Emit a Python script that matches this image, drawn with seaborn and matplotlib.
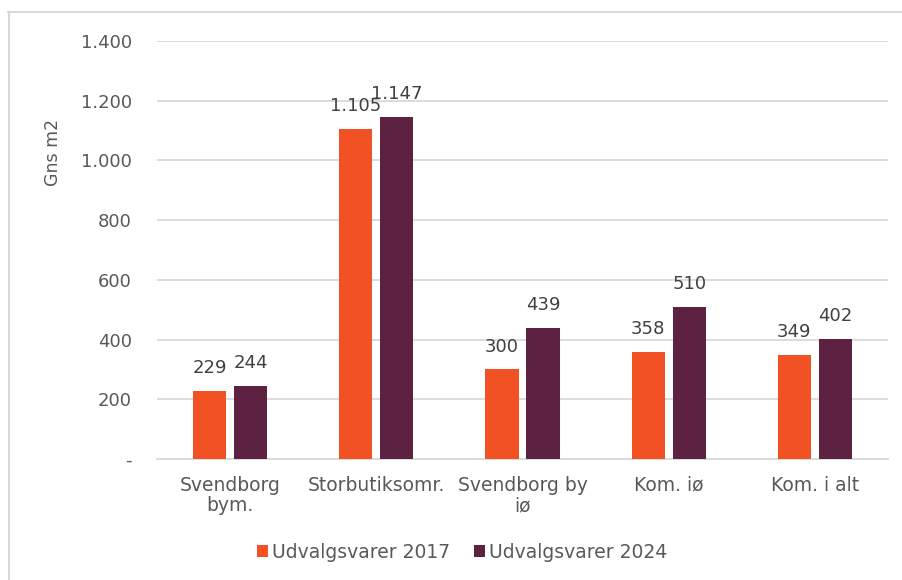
import matplotlib
matplotlib.use("Agg")
import matplotlib.pyplot as plt
import matplotlib.lines as mlines
import pandas as pd
import seaborn as sns

# data
categories = ["Svendborg\nbym.", "Storbutiksomr.", "Svendborg by\niø", "Kom. iø", "Kom. i alt"]
series_names = ["Udvalgsvarer 2017", "Udvalgsvarer 2024"]
values_2017 = [229, 1105, 300, 358, 349]
values_2024 = [244, 1147, 439, 510, 402]
y_ticks = [0, 200, 400, 600, 800, 1000, 1200, 1400]

df = pd.DataFrame({
    "kategori": categories * 2,
    "serie": [series_names[0]] * 5 + [series_names[1]] * 5,
    "m2": values_2017 + values_2024,
})

sns.set_style("white")
plt.rcParams["font.family"] = ["DejaVu Sans"]
txt = "#595959"
colors = ["#F15123", "#5D2141"]

fig = plt.figure(figsize=(9.03, 5.80), dpi=100)
ax = fig.add_axes([157 / 903, 121 / 580, 731 / 903, 418 / 580])

sns.barplot(data=df, x="kategori", y="m2", hue="serie", palette=colors,
            saturation=1, width=0.56, gap=0.19, linewidth=0,
            ax=ax, legend=True, zorder=3)

ax.set_ylim(0, 1400)
ax.set_xlim(-0.5, 4.5)
ax.set_yticks(y_ticks)
ax.set_yticklabels(["-" if v == 0 else f"{v:,}".replace(",", ".") for v in y_ticks],
                   fontsize=13, color=txt)
ax.tick_params(axis="y", length=0, pad=18)
ax.tick_params(axis="x", length=0, pad=12)
for lab in ax.get_xticklabels():
    lab.set_fontsize(13.5)
    lab.set_color(txt)
    lab.set_linespacing(1.12)
ax.grid(axis="y", color="#D9D9D9", linewidth=1.3, zorder=0)
for s in ["top", "right", "left"]:
    ax.spines[s].set_visible(False)
ax.spines["bottom"].set_color("#D9D9D9")
ax.spines["bottom"].set_linewidth(1.3)
ax.set_xlabel("")
ax.set_ylabel("Gns m2", fontsize=12.5, color=txt)
ax.yaxis.set_label_coords(-0.130, 0.734)

for cont in ax.containers:
    ax.bar_label(cont, labels=[f"{v:,.0f}".replace(",", ".") for v in cont.datavalues],
                 padding=10, fontsize=13, color="#404040")

handles, labels = ax.get_legend_handles_labels()
ax.legend(handles, labels, loc="center", bbox_to_anchor=(462 / 903, 1 - 552 / 580),
          bbox_transform=fig.transFigure,
          ncol=2, frameon=False, handlelength=0.6, handleheight=0.6,
          handletextpad=0.2, columnspacing=1.25,
          prop={"size": 13.5}, labelcolor=txt)

# partial outer frame as in the cropped reference
fig.add_artist(mlines.Line2D([8 / 903, 1], [1 - 12 / 580, 1 - 12 / 580],
                             color="#D9D9D9", linewidth=1.5, transform=fig.transFigure))
fig.add_artist(mlines.Line2D([8.5 / 903, 8.5 / 903], [0, 1 - 12 / 580],
                             color="#D9D9D9", linewidth=1.5, transform=fig.transFigure))

fig.savefig("out.png", dpi=100)
